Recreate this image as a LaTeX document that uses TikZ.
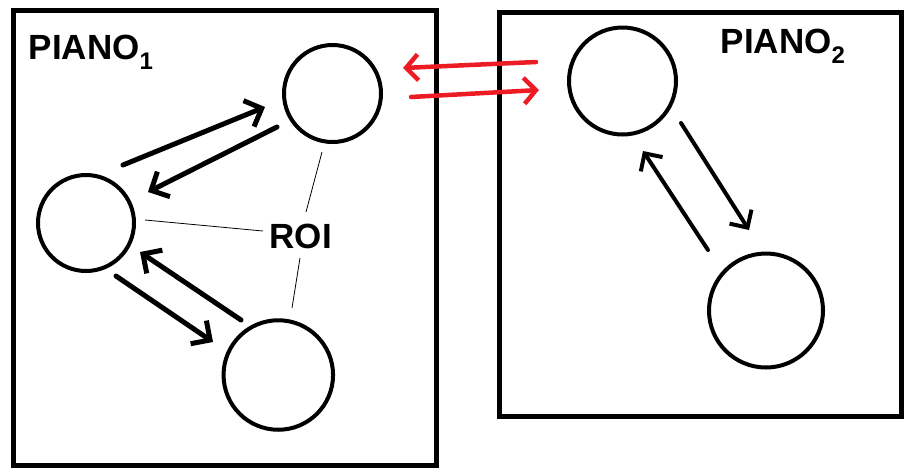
\documentclass[tikz,border=0pt]{standalone}
\usepackage{fontspec}
\setmainfont{Liberation Sans}
\usetikzlibrary{arrows.meta}
\definecolor{pred}{HTML}{ED1C24}
\begin{document}
\begin{tikzpicture}[x=1pt,y=-1pt,
  frame/.style={draw, line width=5pt},
  roi/.style={circle, draw, line width=4pt, inner sep=0pt},
  blk/.style={line width=5pt, line cap=round, -{Straight Barb[length=14pt,width=28pt]}},
  blkthin/.style={line width=4pt, line cap=round, -{Straight Barb[length=13pt,width=26pt]}},
  redarr/.style={draw=pred, line width=4.5pt, line cap=round, -{Straight Barb[length=12pt,width=26pt]}},
  thin/.style={line width=0.8pt},
  lbl/.style={inner sep=0pt, anchor=base west, font=\fontsize{35}{35}\selectfont\bfseries}
]
\useasboundingbox (0,0) rectangle (923,475);
% frames
\draw[frame] (13,10.8) rectangle (436.5,465.5);
\draw[frame] (499.5,12) rectangle (901.5,416.5);
% circles
\node[roi, minimum size=97pt]  (c1) at (332.5,93.5) {};
\node[roi, minimum size=96pt]  (c2) at (86,223) {};
\node[roi, minimum size=109.5pt] (c3) at (278.3,375) {};
\node[roi, minimum size=107pt] (c4) at (622.5,81) {};
\node[roi, minimum size=114pt] (c5) at (766,310.5) {};
% labels
\node[lbl] (p1) at (28.5,59) {PIANO\raisebox{-10pt}{\fontsize{24}{24}\selectfont 1}};
\node[lbl] (p2) at (720.5,53) {PIANO\raisebox{-10pt}{\fontsize{24}{24}\selectfont 2}};
\node[lbl] (roilbl) at (269.5,248) {ROI};
% arrow end points
\coordinate (a1) at (123,165); \coordinate (a2) at (265,107);
\coordinate (b1) at (277,127); \coordinate (b2) at (148,192);
\coordinate (cc1) at (241,320); \coordinate (cc2) at (140,252);
\coordinate (d1) at (116,276); \coordinate (d2) at (213,342);
\coordinate (e1) at (681,123); \coordinate (e2) at (749,230);
\coordinate (f1) at (708,250); \coordinate (f2) at (643,151);
\coordinate (r1) at (536,62); \coordinate (r2) at (403,68);
\coordinate (s1) at (411,97); \coordinate (s2) at (539,90);
\draw[blk] (a1) -- (a2);
\draw[blk] (b1) -- (b2);
\draw[blk] (cc1) -- (cc2);
\draw[blk] (d1) -- (d2);
\draw[blkthin] (e1) -- (e2);
\draw[blkthin] (f1) -- (f2);
\draw[redarr] (r1) -- (r2);
\draw[redarr] (s1) -- (s2);
% ROI pointer lines
\coordinate (l1a) at (322,152); \coordinate (l1b) at (306,212);
\coordinate (l2a) at (145,220); \coordinate (l2b) at (263,231);
\coordinate (l3a) at (300,258); \coordinate (l3b) at (292,308);
\draw[thin] (l1a) -- (l1b);
\draw[thin] (l2a) -- (l2b);
\draw[thin] (l3a) -- (l3b);
\end{tikzpicture}
\end{document}
